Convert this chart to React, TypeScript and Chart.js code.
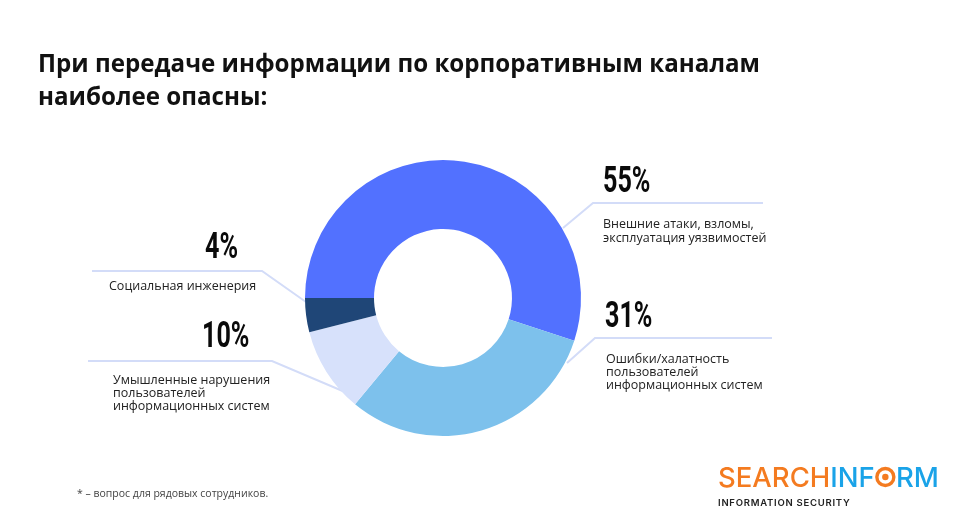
import React, { useEffect, useRef } from 'react';
import { Chart, registerables } from 'chart.js';

Chart.register(...registerables);

const categories = [
  'Внешние атаки, взломы, эксплуатация уязвимостей',
  'Ошибки/халатность пользователей информационных систем',
  'Умышленные нарушения пользователей информационных систем',
  'Социальная инженерия',
];
const shares = [55, 31, 10, 4];
const percentLabels = ['55%', '31%', '10%', '4%'];
const labelLines = [
  ['Внешние атаки, взломы,', 'эксплуатация уязвимостей'],
  ['Ошибки/халатность', 'пользователей', 'информационных систем'],
  ['Умышленные нарушения', 'пользователей', 'информационных систем'],
  ['Социальная инженерия'],
];
const sliceColors = ['#5271FF', '#7DC1EC', '#D7E1FB', '#1F4677'];
const titleLines = ['При передаче информации по корпоративным каналам', 'наиболее опасны:'];
const footnote = '* – вопрос для рядовых сотрудников.';

// annotation layout (pixel positions of callouts)
const calloutLayout = [
  { pct: [603, 192], line: [[563, 228], [593, 203], [763, 203]], text: [603, 228], lh: 13.5 },
  { pct: [605, 327], line: [[567, 363], [595, 338], [772, 338]], text: [606, 363], lh: 12.8 },
  { pct: [202, 347], line: [[88, 361], [272, 361], [345, 392]], text: [113, 384], lh: 12.8 },
  { pct: [205, 258], line: [[92, 271], [262, 271], [306, 302]], text: [109, 290], lh: 13 },
];

const calloutPlugin = {
  id: 'callouts',
  beforeDatasetsDraw(chart: any) {
    const ctx = chart.ctx as CanvasRenderingContext2D;
    ctx.save();
    ctx.strokeStyle = '#D3DCF8';
    ctx.lineWidth = 2;
    calloutLayout.forEach((c) => {
      ctx.beginPath();
      c.line.forEach((p, i) => (i === 0 ? ctx.moveTo(p[0], p[1]) : ctx.lineTo(p[0], p[1])));
      ctx.stroke();
    });
    ctx.restore();
  },
  afterDraw(chart: any) {
    const ctx = chart.ctx as CanvasRenderingContext2D;
    ctx.save();
    ctx.textBaseline = 'alphabetic';
    ctx.textAlign = 'left';
    // title
    ctx.fillStyle = '#111111';
    ctx.font = 'bold 25px "Open Sans"';
    ctx.save();
    ctx.translate(38, 0);
    ctx.scale(0.966, 1);
    ctx.fillText(titleLines[0], 0, 72);
    ctx.fillText(titleLines[1], 0, 105);
    ctx.restore();

    calloutLayout.forEach((c, i) => {
      ctx.save();
      ctx.translate(c.pct[0], c.pct[1]);
      ctx.scale(0.68, 1);
      ctx.fillStyle = '#0A0A0A';
      ctx.font = 'bold 37px Roboto';
      ctx.fillText(percentLabels[i], 0, 0);
      ctx.restore();
      ctx.fillStyle = '#222222';
      ctx.font = '12.5px "Open Sans"';
      labelLines[i].forEach((t, j) => ctx.fillText(t, c.text[0], c.text[1] + j * c.lh));
    });

    // footnote
    ctx.fillStyle = '#444444';
    ctx.font = '10.5px "Open Sans"';
    ctx.fillText(footnote, 77, 497);

    // logo
    const orange = '#F47B20';
    const blue = '#1AA3E8';
    ctx.font = '500 27.5px Inter';
    let x = 718;
    const by = 487;
    ctx.fillStyle = orange;
    ctx.fillText('SEARCH', x, by);
    x += ctx.measureText('SEARCH').width;
    ctx.fillStyle = blue;
    ctx.fillText('INF', x, by);
    x += ctx.measureText('INF').width;
    const ow = ctx.measureText('O').width;
    const cx = x + ow / 2;
    const cy = by - 10;
    ctx.strokeStyle = orange;
    ctx.lineWidth = 3.4;
    ctx.beginPath();
    ctx.arc(cx, cy, 8.5, 0, Math.PI * 2);
    ctx.stroke();
    ctx.fillStyle = orange;
    ctx.beginPath();
    ctx.arc(cx, cy, 3.2, 0, Math.PI * 2);
    ctx.fill();
    x += ow;
    ctx.fillStyle = blue;
    ctx.fillText('RM', x, by);
    ctx.fillStyle = '#222222';
    ctx.font = '600 9.5px Inter';
    (ctx as any).letterSpacing = '0.75px';
    ctx.fillText('INFORMATION SECURITY', 718, 506);
    ctx.restore();
  },
};

export default function App() {
  const ref = useRef<HTMLCanvasElement>(null);
  useEffect(() => {
    if (!ref.current) return;
    const chart = new Chart(ref.current, {
      type: 'doughnut',
      data: {
        labels: categories,
        datasets: [
          {
            data: shares,
            backgroundColor: sliceColors,
            borderWidth: 0,
          },
        ],
      },
      options: {
        responsive: true,
        maintainAspectRatio: false,
        animation: false,
        events: [],
        rotation: -90,
        cutout: '50%',
        layout: { padding: { left: 305, right: 386, top: 160, bottom: 96 } },
        plugins: { legend: { display: false }, tooltip: { enabled: false }, title: { display: false } },
      },
      plugins: [calloutPlugin],
    });
    const fonts = ['bold 25px "Open Sans"', '12.5px "Open Sans"', 'bold 37px Roboto', '500 27.5px Inter', '600 9.5px Inter'];
    Promise.all(fonts.map((f) => (document as any).fonts.load(f))).then(() => chart.draw()).catch(() => {});
    return () => chart.destroy();
  }, []);
  return (
    <div style={{ position: 'absolute', left: 0, top: 0, width: 967, height: 532, background: '#ffffff' }}>
      <canvas ref={ref} />
    </div>
  );
}
